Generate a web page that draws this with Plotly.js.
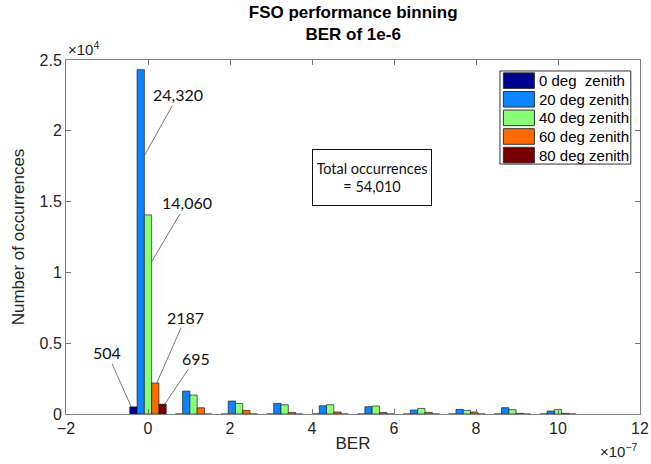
<!DOCTYPE html>
<html>
<head>
<meta charset="utf-8">
<script src="https://cdn.plot.ly/plotly-3.0.1.min.js"></script>
<style>html,body{margin:0;padding:0;background:#fff;}#chart{width:651px;height:464px;}</style>
</head>
<body>
<div id="chart"></div>
<script>
// ---- data (BER bin centres in units of 1e-7) ----
const binCenters = [0, 1.111, 2.222, 3.333, 4.444, 5.556, 6.667, 7.778, 8.889, 10.0];
const seriesNames = ['0 deg  zenith', '20 deg zenith', '40 deg zenith', '60 deg zenith', '80 deg zenith'];
const deg0  = [504, 0, 0, 0, 0, 0, 0, 0, 0, 0];
const deg20 = [24320, 1620, 915, 750, 585, 515, 280, 325, 445, 210];
const deg40 = [14060, 1340, 750, 655, 655, 565, 395, 255, 305, 325];
const deg60 = [2187, 440, 255, 115, 140, 115, 115, 140, 45, 45];
const deg80 = [695, 0, 0, 0, 0, 0, 0, 0, 0, 0];
const seriesColors = ['#00008f', '#0a84ff', '#88ff77', '#ff6a00', '#780000'];
const peakLabels = ['504', '24,320', '14,060', '2187', '695'];
const totalText = ['Total occurrences', '= 54,010'];
const xTickVals = [-2, 0, 2, 4, 6, 8, 10, 12];
const xTickText = ['\u22122', '0', '2', '4', '6', '8', '10', '12'];
const yTickVals = [0, 5000, 10000, 15000, 20000, 25000];
const yTickText = ['0', '0.5', '1', '1.5', '2', '2.5'];

const allSeries = [deg0, deg20, deg40, deg60, deg80];
const FONT = '"Liberation Sans", Arial, sans-serif';
const LABELFONT = 'Lato, "Open Sans", sans-serif';

const traces = allSeries.map((vals, i) => ({
  type: 'bar',
  x: binCenters,
  y: vals,
  name: seriesNames[i],
  marker: {color: seriesColors[i], line: {color: 'rgba(30,30,30,0.85)', width: 0.8}},
  showlegend: false,
  hoverinfo: 'x+y+name'
}));

const bargap = 0.2;
const binSpacing = binCenters[1] - binCenters[0];
const barW = binSpacing * (1 - bargap) / allSeries.length;
const barX = i => binCenters[0] + (i - 2) * barW;

// peak label arrow settings: [frac of bar height, x shift in bar widths, ax, ay]
const peakStyle = [
  [1.0, -0.3, -24, -54],
  [0.75, 0.5, 34, -61],
  [0.765, 0.5, 35, -59],
  [1.0, 0.2, 29, -66],
  [1.0, 0.3, 31, -46]
];

const annotations = [];
peakLabels.forEach((t, i) => {
  const s = peakStyle[i];
  annotations.push({
    x: barX(i) + s[1] * barW, y: allSeries[i][0] * s[0], xref: 'x', yref: 'y',
    text: t, showarrow: true, arrowhead: 0, arrowwidth: 0.8, arrowcolor: '#555',
    ax: s[2], ay: s[3], font: {family: LABELFONT, size: 16, color: '#111'}
  });
});

annotations.push({
  xref: 'paper', yref: 'paper', x: 0.533, y: 0.669, xanchor: 'center', yanchor: 'middle',
  text: totalText.join('<br>'), showarrow: false,
  font: {family: LABELFONT, size: 14.5, color: '#111'},
  width: 110, height: 47, align: 'center', valign: 'middle',
  bordercolor: '#111', borderwidth: 1, borderpad: 4, bgcolor: '#fff'
});

// exponents
annotations.push({xref: 'paper', yref: 'paper', x: 0.0, y: 1.0, xanchor: 'left', yanchor: 'bottom',
  text: '\u00d710<sup>4</sup>', showarrow: false, font: {family: FONT, size: 15, color: '#262626'}});
annotations.push({xref: 'paper', yref: 'paper', x: 1.0, y: -0.07, xanchor: 'right', yanchor: 'top',
  text: '\u00d710<sup>\u22127</sup>', showarrow: false, font: {family: FONT, size: 15, color: '#262626'}});

// manual legend
const shapes = [];
const legX0 = 0.756, legX1 = 0.984, legTop = 0.969, legBot = 0.706;
shapes.push({type: 'rect', xref: 'paper', yref: 'paper', x0: legX0, x1: legX1, y0: legBot, y1: legTop,
  line: {color: '#333', width: 1}, fillcolor: '#fff'});
const rowH = (legTop - legBot) / seriesNames.length;
seriesNames.forEach((n, i) => {
  const yc = legTop - rowH * (i + 0.5) - 0.001;
  shapes.push({type: 'rect', xref: 'paper', yref: 'paper', x0: legX0 + 0.006, x1: legX0 + 0.060,
    y0: yc - 0.022, y1: yc + 0.022, line: {color: '#333', width: 1}, fillcolor: seriesColors[i]});
  annotations.push({xref: 'paper', yref: 'paper', x: legX0 + 0.064, y: yc, xanchor: 'left', yanchor: 'middle',
    text: n, showarrow: false, font: {family: FONT, size: 15, color: '#000'}});
});

const layout = {
  width: 651, height: 464,
  margin: {l: 66, r: 11, t: 60, b: 50},
  paper_bgcolor: '#fff', plot_bgcolor: '#fff',
  barmode: 'group', bargap: bargap, bargroupgap: 0,
  title: {text: '<b>FSO performance binning</b><br><b>BER of 1e-6</b>', x: 0.5425, xanchor: 'center',
    y: 0.961, yanchor: 'top', font: {family: FONT, size: 17, color: '#000'}},
  xaxis: {range: [-2, 12], tickvals: xTickVals, ticktext: xTickText, ticks: 'inside', ticklen: 5,
    tickcolor: '#777', showline: true, linecolor: '#808080', linewidth: 1, mirror: 'ticks',
    showgrid: false, zeroline: false, tickfont: {family: FONT, size: 16, color: '#262626'},
    title: {text: 'BER', font: {family: FONT, size: 17, color: '#262626'}, standoff: 0}},
  yaxis: {range: [0, 25000], tickvals: yTickVals, ticktext: yTickText, ticks: 'inside', ticklen: 5,
    tickcolor: '#777', showline: true, linecolor: '#808080', linewidth: 1, mirror: 'ticks',
    showgrid: false, zeroline: false, tickfont: {family: FONT, size: 16, color: '#262626'},
    title: {text: 'Number of occurrences', font: {family: FONT, size: 17, color: '#262626'}, standoff: 10}},
  annotations: annotations,
  shapes: shapes
};

Plotly.newPlot('chart', traces, layout, {displayModeBar: false, staticPlot: true});
</script>
</body>
</html>
